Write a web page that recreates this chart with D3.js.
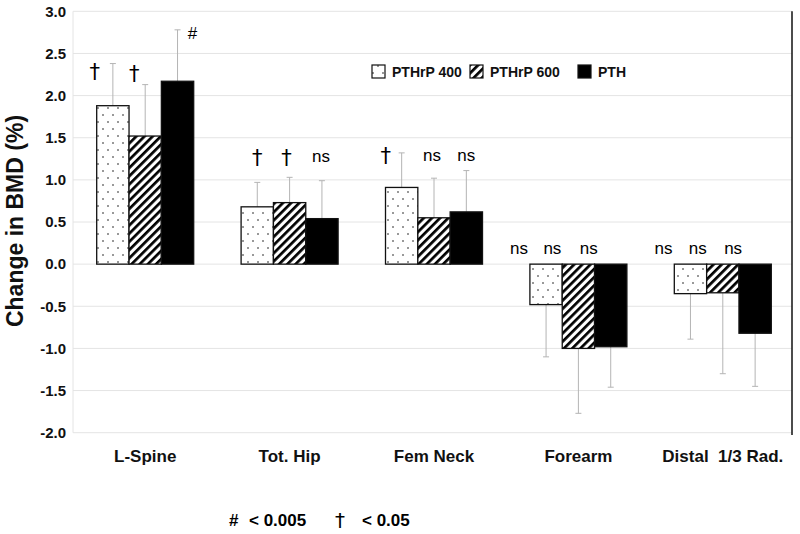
<!DOCTYPE html>
<html>
<head>
<meta charset="utf-8">
<script src="https://cdn.jsdelivr.net/npm/d3@7/dist/d3.min.js"></script>
<style>
  html, body { margin: 0; padding: 0; background: #fff; }
  svg { display: block; }
  text { font-family: "Liberation Sans", Arial, sans-serif; }
</style>
</head>
<body>
<script>
// ---------- data ----------
const categories = ["L-Spine", "Tot. Hip", "Fem Neck", "Forearm", "Distal  1/3 Rad."];
const seriesNames = ["PTHrP 400", "PTHrP 600", "PTH"];
const pthrp400 = [1.88, 0.68, 0.91, -0.48, -0.35];
const pthrp600 = [1.52, 0.73, 0.55, -1.00, -0.34];
const pth      = [2.17, 0.54, 0.62, -0.98, -0.82];
const err400   = [0.50, 0.29, 0.41, 0.62, 0.54];
const err600   = [0.61, 0.30, 0.47, 0.77, 0.96];
const errPTH   = [0.61, 0.45, 0.49, 0.48, 0.63];
const ann400   = ["†", "†", "†", "ns", "ns"];
const ann600   = ["†", "†", "ns", "ns", "ns"];
const annPTH   = ["#", "ns", "ns", "ns", "ns"];
const yTicks   = [3.0, 2.5, 2.0, 1.5, 1.0, 0.5, 0.0, -0.5, -1.0, -1.5, -2.0];
const yLabel   = "Change in BMD (%)";
const footnote = [["#", "< 0.005"], ["†", "< 0.05"]];

// ---------- layout (not data) ----------
const W = 800, H = 534;
const plot = { left: 73, right: 795, top: 11.3, bottom: 432.7 };
const groupWidth = 97;
// annotation placement: level in axis units and x offset (px) from bar centre
const annLevel = [[2.28, 2.26, 2.74], [1.26, 1.26, 1.28], [1.29, 1.29, 1.29], [0.19, 0.19, 0.19], [0.19, 0.19, 0.19]];
const annDx    = [[-18, -11, 15], [0, -3, -1], [-16, -2, 0], [-27, -26, -22], [-27, -25, -22]];

const values = [pthrp400, pthrp600, pth];
const errors = [err400, err600, errPTH];
const anns   = [ann400, ann600, annPTH];
const FONT = '"Liberation Sans", Arial, sans-serif';
const DAGGER_FONT = '"DejaVu Sans", sans-serif';

const svg = d3.select("body").append("svg").attr("width", W).attr("height", H);
svg.append("rect").attr("width", W).attr("height", H).attr("fill", "#fff");

const defs = svg.append("defs");
const dots = defs.append("pattern").attr("id", "dots").attr("patternUnits", "userSpaceOnUse")
  .attr("width", 10).attr("height", 14);
dots.append("rect").attr("width", 10).attr("height", 14).attr("fill", "#fff");
dots.append("circle").attr("cx", 3).attr("cy", 3).attr("r", 0.75).attr("fill", "#000");
dots.append("circle").attr("cx", 8).attr("cy", 10).attr("r", 0.75).attr("fill", "#000");
const hatch = defs.append("pattern").attr("id", "hatch").attr("patternUnits", "userSpaceOnUse")
  .attr("width", 5.8).attr("height", 5.8).attr("patternTransform", "rotate(45)");
hatch.append("rect").attr("width", 5.8).attr("height", 5.8).attr("fill", "#fff");
hatch.append("rect").attr("width", 2.7).attr("height", 5.8).attr("fill", "#000");
const fills = ["url(#dots)", "url(#hatch)", "#000"];

const x0 = d3.scaleBand().domain(categories).range([plot.left, plot.right]).padding(0);
const bw = x0.bandwidth();
const x1 = d3.scaleBand().domain(seriesNames)
  .range([(bw - groupWidth) / 2, (bw + groupWidth) / 2]).padding(0);
const y = d3.scaleLinear().domain([-2, 3]).range([plot.bottom, plot.top]);

// gridlines
svg.append("g").selectAll("line").data(yTicks).join("line")
  .attr("x1", plot.left).attr("x2", 792)
  .attr("y1", d => y(d)).attr("y2", d => y(d))
  .attr("stroke", "#e4e4e4").attr("stroke-width", 1);
// y axis line (light)
svg.append("line").attr("x1", plot.left).attr("x2", plot.left)
  .attr("y1", y(3)).attr("y2", y(-2)).attr("stroke", "#e4e4e4");
// right border
svg.append("line").attr("x1", 792).attr("x2", 792)
  .attr("y1", y(3)).attr("y2", 435).attr("stroke", "#111").attr("stroke-width", 1.5);

// y axis tick labels via d3 axis
const yAxis = d3.axisLeft(y).tickValues(yTicks)
  .tickFormat(d => d3.format(".1f")(d).replace("\u2212", "-"))
  .tickSize(0).tickPadding(7);
const yg = svg.append("g").attr("transform", `translate(${plot.left},0)`).call(yAxis);
yg.select(".domain").remove();
yg.selectAll("text").attr("font-size", 15).attr("font-weight", "bold").attr("fill", "#111")
  .style("font-family", FONT);

// y label
svg.append("text").attr("transform", `translate(23,${(plot.top + plot.bottom) / 2 - 1}) rotate(-90)`)
  .attr("text-anchor", "middle").attr("font-size", 23).attr("font-weight", "bold").attr("fill", "#111")
  .text(yLabel);

// bars + error bars
const flat = [];
categories.forEach((c, i) => seriesNames.forEach((s, j) => {
  flat.push({ c, s, i, j, v: values[j][i], e: errors[j][i], a: anns[j][i] });
}));

const g = svg.append("g");
flat.forEach(d => {
  const cx = x0(d.c) + x1(d.s) + x1.bandwidth() / 2;
  const end = d.v >= 0 ? d.v + d.e : d.v - d.e;
  g.append("line").attr("x1", cx).attr("x2", cx).attr("y1", y(d.v)).attr("y2", y(end))
    .attr("stroke", "#b4b4b4").attr("stroke-width", 1);
  g.append("line").attr("x1", cx - 3).attr("x2", cx + 3).attr("y1", y(end)).attr("y2", y(end))
    .attr("stroke", "#b4b4b4").attr("stroke-width", 1);
});
g.selectAll("rect.bar").data(flat).join("rect").attr("class", "bar")
  .attr("x", d => x0(d.c) + x1(d.s))
  .attr("width", x1.bandwidth())
  .attr("y", d => y(Math.max(0, d.v)))
  .attr("height", d => Math.abs(y(d.v) - y(0)))
  .attr("fill", d => fills[d.j])
  .attr("stroke", "#111").attr("stroke-width", 1.3);

// annotations
g.selectAll("text.ann").data(flat).join("text").attr("class", "ann")
  .attr("x", d => x0(d.c) + x1(d.s) + x1.bandwidth() / 2 + annDx[d.i][d.j])
  .attr("y", d => y(annLevel[d.i][d.j]))
  .attr("dy", "0.35em")
  .attr("text-anchor", "middle")
  .attr("font-size", d => d.a === "†" ? 21 : 17)
  .style("font-family", d => d.a === "†" ? DAGGER_FONT : FONT)
  .attr("fill", "#000")
  .text(d => d.a);

// category labels via axis
const xAxis = d3.axisBottom(x0).tickSize(0).tickPadding(0);
const xg = svg.append("g").attr("transform", "translate(0,462)").call(xAxis);
xg.select(".domain").remove();
xg.selectAll("text").attr("dy", 0).attr("font-size", 17).attr("font-weight", "bold").attr("fill", "#111")
  .style("font-family", FONT).style("white-space", "pre");

// legend
const legX = [372, 470, 578];
const leg = svg.append("g");
seriesNames.forEach((s, j) => {
  leg.append("rect").attr("x", legX[j]).attr("y", 65).attr("width", 13).attr("height", 13)
    .attr("fill", fills[j]).attr("stroke", "#111").attr("stroke-width", 1.2);
  leg.append("text").attr("x", legX[j] + 20).attr("y", 77).attr("font-size", 14)
    .attr("font-weight", "bold").attr("fill", "#111").text(s);
});

// footnote
const fn = svg.append("g").attr("font-size", 17).attr("fill", "#000");
fn.append("text").attr("x", 229).attr("y", 526).attr("font-weight", "bold").text(footnote[0][0]);
fn.append("text").attr("x", 249).attr("y", 526).attr("font-weight", "bold").text(footnote[0][1]);
fn.append("text").attr("x", 335).attr("y", 527).attr("font-size", 20).style("font-family", DAGGER_FONT).text(footnote[1][0]);
fn.append("text").attr("x", 362).attr("y", 526).attr("font-weight", "bold").text(footnote[1][1]);
</script>
</body>
</html>
